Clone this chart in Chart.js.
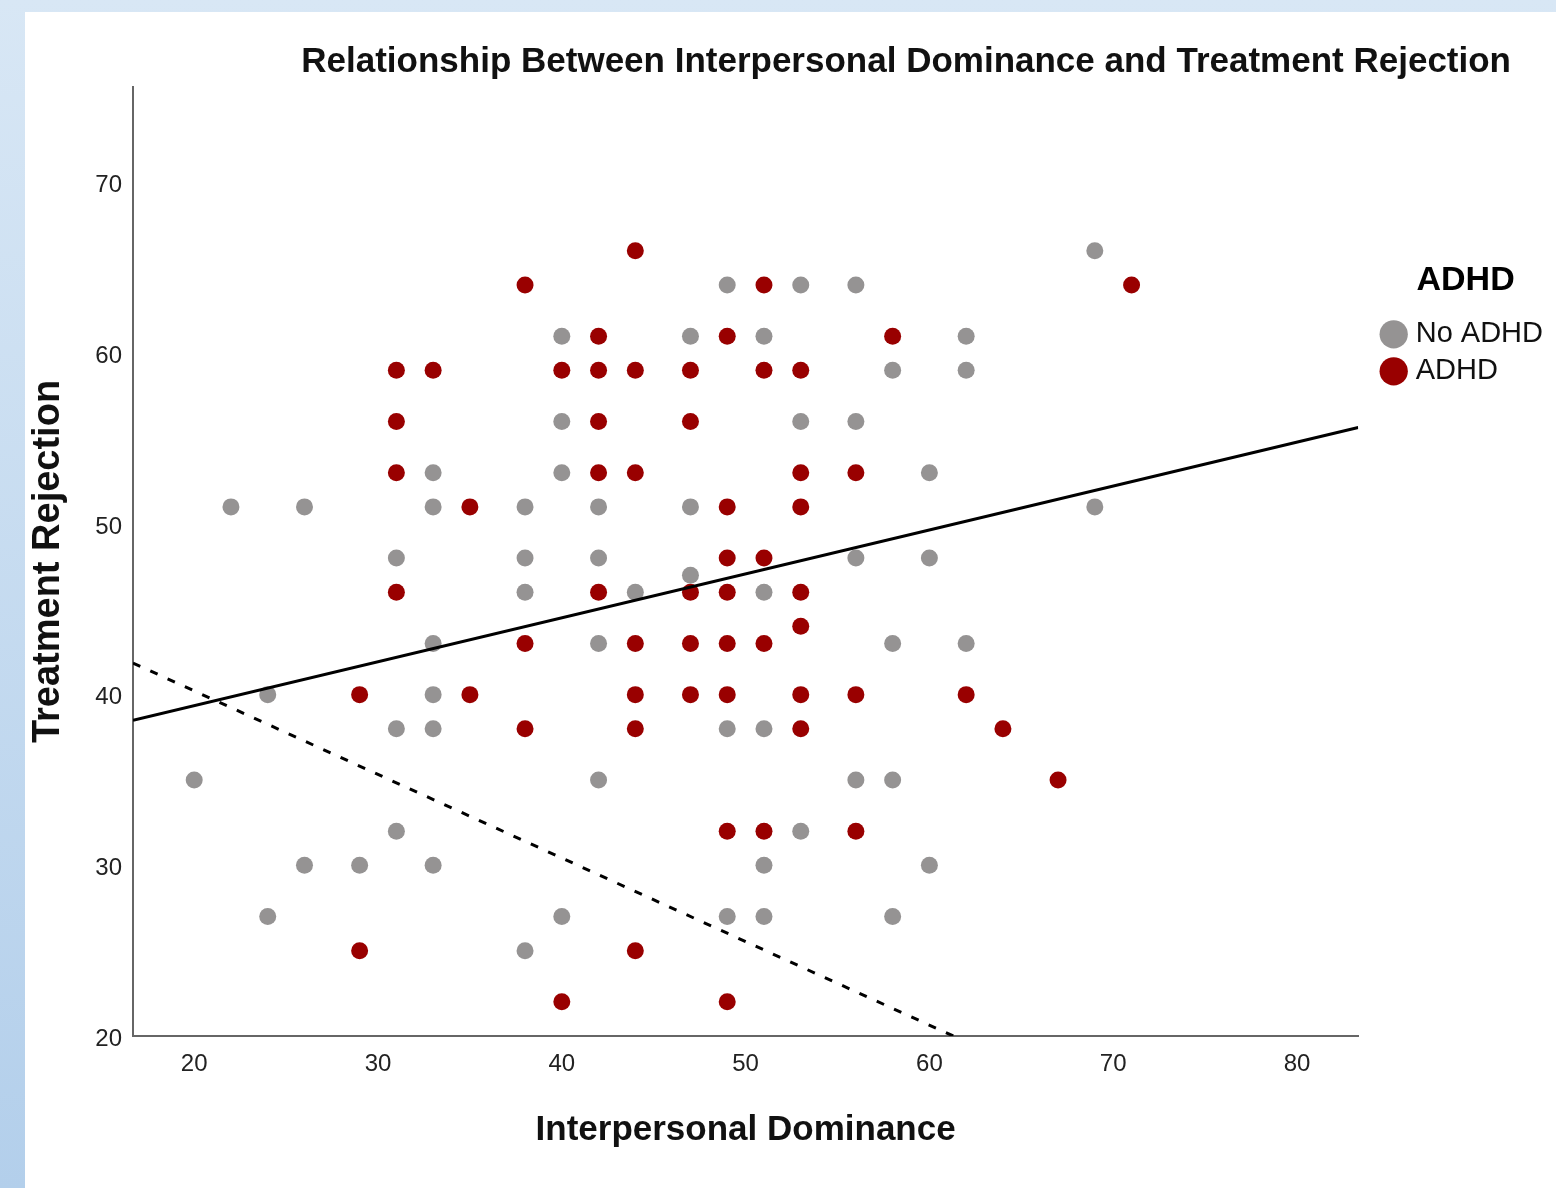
<!DOCTYPE html>
<html>
<head>
<meta charset="utf-8">
<script src="https://cdn.jsdelivr.net/npm/chart.js@4.4.1/dist/chart.umd.min.js"></script>
<style>
  html, body { margin: 0; padding: 0; }
  body {
    width: 1556px; height: 1188px; overflow: hidden; position: relative;
    background: linear-gradient(180deg, #d8e7f5 0%, #b3cfeb 100%);
  }
  #panel { position: absolute; left: 25px; top: 12px; width: 1531px; height: 1176px; background: #fff; }
  #scatterChart { position: absolute; left: 0; top: 0; }
  #title {
    position: absolute; right: 45px; top: 27px;
    font: bold 35px "Liberation Sans", Arial, sans-serif; line-height: 42px;
    color: #111; white-space: nowrap;
  }
</style>
</head>
<body>
<div id="panel">
  <canvas id="scatterChart" width="1531" height="1176"></canvas>
  <div id="title">Relationship Between Interpersonal Dominance and Treatment Rejection</div>
</div>
<script>
// Axis ticks
const xTicks = [20, 30, 40, 50, 60, 70, 80];
const yTicks = [20, 30, 40, 50, 60, 70];

// No ADHD group
const noAdhdX = [69, 49, 53, 56, 40, 47, 51, 62, 58, 62, 40, 53, 56, 33, 40, 60,
    22, 26, 33, 38, 42, 47, 69, 31, 38, 42, 56, 60, 47, 38, 44, 51, 33, 42, 58, 62,
    24, 33, 31, 33, 49, 51, 20, 42, 56, 58, 31, 53, 26, 29, 33, 51, 60,
    24, 40, 49, 51, 58, 38];
const noAdhdY = [66, 64, 64, 64, 61, 61, 61, 61, 59, 59, 56, 56, 56, 53, 53, 53,
    51, 51, 51, 51, 51, 51, 51, 48, 48, 48, 48, 48, 47, 46, 46, 46, 43, 43, 43, 43,
    40, 40, 38, 38, 38, 38, 35, 35, 35, 35, 32, 32, 30, 30, 30, 30, 30,
    27, 27, 27, 27, 27, 25];

// ADHD group
const adhdX = [44, 38, 51, 71, 42, 49, 58, 31, 33, 40, 42, 44, 47, 51, 53,
    31, 42, 47, 31, 42, 44, 53, 56, 35, 49, 53, 49, 51, 31, 42, 47, 49, 53, 53,
    38, 44, 47, 49, 51, 29, 35, 44, 47, 49, 53, 56, 62, 38, 44, 53, 64, 67,
    49, 51, 56, 29, 44, 40, 49];
const adhdY = [66, 64, 64, 64, 61, 61, 61, 59, 59, 59, 59, 59, 59, 59, 59,
    56, 56, 56, 53, 53, 53, 53, 53, 51, 51, 51, 48, 48, 46, 46, 46, 46, 46, 44,
    43, 43, 43, 43, 43, 40, 40, 40, 40, 40, 40, 40, 40, 38, 38, 38, 38, 35,
    32, 32, 32, 25, 25, 22, 22];

// Fit line (solid) and reference line (dashed), end points
const fitX = [16.67, 83.33];
const fitY = [38.5, 55.65];
const refX = [16.67, 61.3];
const refY = [41.85, 20];

const toPoints = (xs, ys) => xs.map((x, i) => ({ x: x, y: ys[i] }));
const font = '"Liberation Sans", Arial, sans-serif';

const ctx = document.getElementById('scatterChart').getContext('2d');
const scatterChart = new Chart(ctx, {
    type: 'scatter',
    data: {
        datasets: [{
            label: 'No ADHD',
            data: toPoints(noAdhdX, noAdhdY),
            backgroundColor: '#959393',
            borderColor: '#959393',
            borderWidth: 0,
            pointRadius: 8.5,
            pointHoverRadius: 8.5,
            order: 1
        }, {
            label: 'ADHD',
            data: toPoints(adhdX, adhdY),
            backgroundColor: '#990000',
            borderColor: '#990000',
            borderWidth: 0,
            pointRadius: 8.5,
            pointHoverRadius: 8.5,
            order: 1
        }, {
            label: 'Fit',
            data: toPoints(fitX, fitY),
            showLine: true,
            borderColor: '#000',
            borderWidth: 3,
            pointRadius: 0,
            order: 0
        }, {
            label: 'Reference',
            data: toPoints(refX, refY),
            showLine: true,
            borderColor: '#000',
            borderWidth: 3,
            borderDash: [8, 11],
            pointRadius: 0,
            order: 0
        }]
    },
    options: {
        responsive: false,
        animation: false,
        layout: { padding: { top: 75, right: 3, bottom: 0, left: 0 } },
        plugins: {
            tooltip: { enabled: false },
            legend: {
                position: 'right',
                align: 'start',
                title: {
                    display: true,
                    text: 'ADHD',
                    color: '#000',
                    font: { family: font, size: 34, weight: 'bold' },
                    padding: { top: 177, bottom: 7 }
                },
                labels: {
                    usePointStyle: true,
                    boxWidth: 15,
                    boxHeight: 20,
                    padding: 8,
                    color: '#111',
                    font: { family: font, size: 29 },
                    filter: item => item.datasetIndex < 2
                }
            }
        },
        scales: {
            x: {
                type: 'linear',
                min: 16.67,
                max: 83.33,
                afterBuildTicks: s => { s.ticks = xTicks.map(v => ({ value: v })); },
                afterFit: s => { s.height = 152; },
                grid: { display: false, drawTicks: false },
                border: { display: true, color: '#666', width: 2 },
                ticks: { color: '#222', font: { family: font, size: 24 }, padding: 14, maxRotation: 0 },
                title: {
                    display: true,
                    text: 'Interpersonal Dominance',
                    color: '#111',
                    font: { family: font, size: 35, weight: 'bold' },
                    padding: { top: 0, bottom: 37 }
                }
            },
            y: {
                type: 'linear',
                min: 20,
                max: 75.6,
                afterBuildTicks: s => { s.ticks = yTicks.map(v => ({ value: v })); },
                afterFit: s => { s.width = 108; },
                grid: { display: false, drawTicks: false },
                border: { display: true, color: '#666', width: 2 },
                ticks: { color: '#222', font: { family: font, size: 24 }, padding: 11, labelOffset: 3 },
                title: {
                    display: true,
                    text: 'Treatment Rejection',
                    color: '#111',
                    font: { family: font, size: 38, weight: 'bold' },
                    padding: { top: 1, bottom: 0 }
                }
            },
            // empty strip between plot and legend
            pad: {
                type: 'linear',
                position: 'right',
                grid: { display: false, drawTicks: false },
                border: { display: false },
                ticks: { display: false },
                afterFit: s => { s.width = 20; }
            }
        }
    }
});
</script>
</body>
</html>
